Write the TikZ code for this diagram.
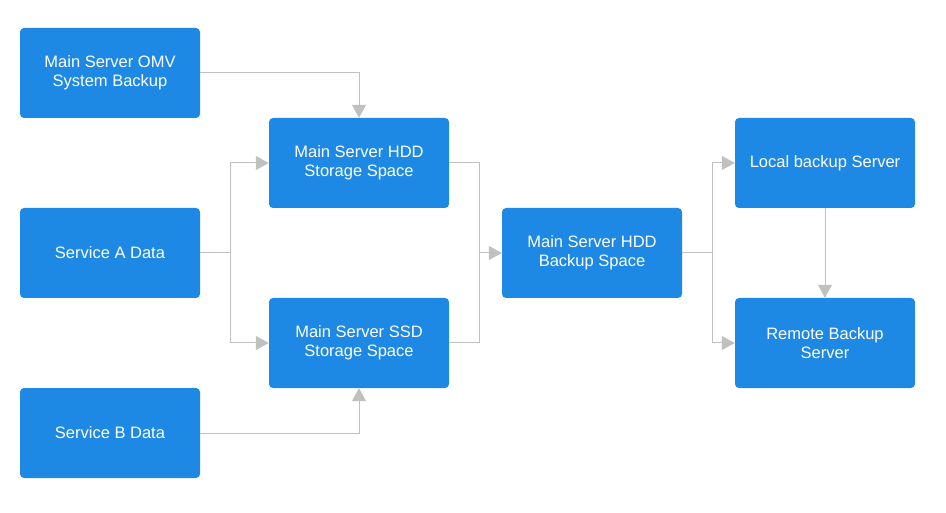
\documentclass[tikz,border=0pt]{standalone}
\usepackage{fontspec}
\setmainfont{Liberation Sans}
\usetikzlibrary{arrows.meta,calc}
\definecolor{boxblue}{HTML}{1E88E5}
\definecolor{linegray}{HTML}{C0C0C0}
\tikzset{
  box/.style={fill=boxblue, rounded corners=4pt, minimum width=180pt, minimum height=90pt,
    text=white, align=center, inner sep=0pt, font=\fontsize{16.5pt}{19pt}\selectfont},
  conn/.style={draw=linegray, line width=1pt, -{Triangle[length=13pt,width=14pt,fill=linegray]}},
  plain/.style={draw=linegray, line width=1pt}
}
\begin{document}
\begin{tikzpicture}[x=1pt,y=-1pt]
\useasboundingbox (0,0) rectangle (946,513);
\node[box] (omv) at (110,73) {Main Server OMV\\System Backup};
\node[box] (sa) at (110,253) {Service A Data};
\node[box] (sb) at (110,433) {Service B Data};
\node[box] (hdd) at (359,163) {Main Server HDD\\Storage Space};
\node[box] (ssd) at (359,343) {Main Server SSD\\Storage Space};
\node[box] (bak) at (592,253) {Main Server HDD\\Backup Space};
\node[box] (loc) at (825,163) {Local backup Server};
\node[box] (rem) at (825,343) {Remote Backup\\Server};
\coordinate (ja) at (230,253);
\coordinate (jb) at (479,253);
\coordinate (jc) at (712,253);
\draw[conn] (omv.east) -| (hdd.north);
\draw[conn] (sb.east) -| (ssd.south);
\draw[plain] (sa.east) -- (ja);
\draw[conn] (ja) |- (hdd.west);
\draw[conn] (ja) |- (ssd.west);
\draw[plain] (hdd.east) -| (jb);
\draw[plain] (ssd.east) -| (jb);
\draw[conn] (jb) -- (bak.west);
\draw[plain] (bak.east) -- (jc);
\draw[conn] (jc) |- (loc.west);
\draw[conn] (jc) |- (rem.west);
\draw[conn] (loc.south) -- (rem.north);
\end{tikzpicture}
\end{document}
